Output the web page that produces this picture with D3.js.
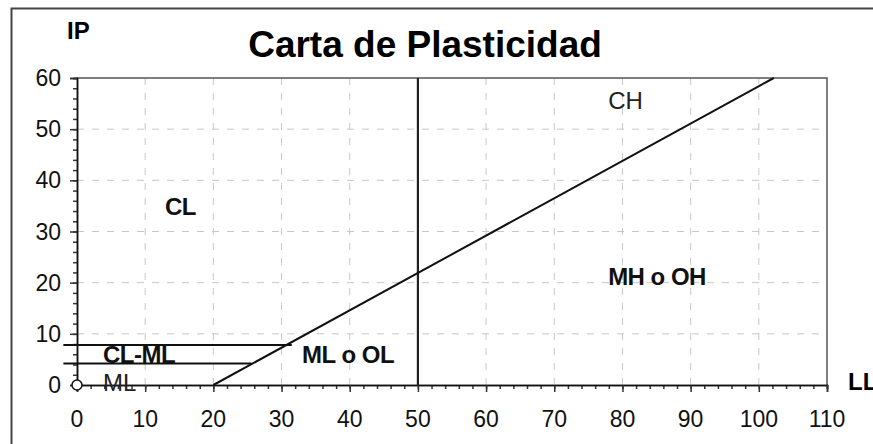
<!DOCTYPE html>
<html>
<head>
<meta charset="utf-8">
<script src="https://cdn.jsdelivr.net/npm/d3@7"></script>
<style>
  body { margin: 0; background: #fff; }
  svg { display: block; font-family: "Liberation Sans", Arial, sans-serif; }
</style>
</head>
<body>
<div id="chart"></div>
<script>
// chart values
var xTickValues = [0, 10, 20, 30, 40, 50, 60, 70, 80, 90, 100, 110];
var yTickValues = [0, 10, 20, 30, 40, 50, 60];
var aLine = [[20, 0], [102.2, 60]];          // linea A
var llLimit = [[50, 0], [50, 60]];           // LL = 50
var clmlLines = [                            // franja CL-ML
  [[-2, 4.2], [25.6, 4.2]],
  [[-2, 7.8], [31.5, 7.8]]
];
var originPoint = [[0, 0]];
var zoneNames = ["CL", "CL-ML", "ML", "ML o OL", "MH o OH", "CH"];
var zoneLL = [12.9, 3.8, 3.8, 33.0, 77.9, 77.9];
var zoneIP = [33.2, 4.3, -1.2, 4.3, 19.5, 53.9];
var zoneBold = [true, true, false, true, true, false];

var svgWidth = 873;
var svgHeight = 444;

var svg = d3.select("#chart")
  .append("svg")
  .attr("width", svgWidth)
  .attr("height", svgHeight);

// outer frame (runs off the picture on right and bottom)
svg.append("rect")
  .attr("x", 11.5).attr("y", 8.5)
  .attr("width", 900).attr("height", 500)
  .attr("fill", "none")
  .attr("stroke", "#444")
  .attr("stroke-width", 2);

var x = d3.scaleLinear().domain([0, 110]).range([77, 827]);
var y = d3.scaleLinear().domain([0, 60]).range([385, 78]);

// grid
svg.append("g").selectAll("line")
  .data(xTickValues.filter(d => d > 0 && d < 110))
  .enter().append("line")
  .attr("x1", d => x(d)).attr("x2", d => x(d))
  .attr("y1", y(0)).attr("y2", y(60))
  .attr("stroke", "#c8c8c8")
  .attr("stroke-dasharray", "7,8");

svg.append("g").selectAll("line")
  .data(yTickValues.filter(d => d > 0 && d < 60))
  .enter().append("line")
  .attr("x1", x(0)).attr("x2", x(110))
  .attr("y1", d => y(d)).attr("y2", d => y(d))
  .attr("stroke", "#c8c8c8")
  .attr("stroke-dasharray", "7,8");

// top and right frame of plot
svg.append("path")
  .attr("d", `M${x(0)},${y(60)}H${x(110)}V${y(0)}`)
  .attr("fill", "none")
  .attr("stroke", "#555")
  .attr("stroke-width", 1.5);

// axes
var minorX = d3.range(0, 111, 2);
var minorY = d3.range(0, 61, 2);

var xAxis = svg.append("g")
  .attr("transform", `translate(0, ${y(0)})`)
  .call(d3.axisBottom(x).tickValues(minorX).tickSize(4).tickFormat(""));
xAxis.append("g").call(d3.axisBottom(x).tickValues(xTickValues).tickSize(7).tickFormat(""));
xAxis.selectAll(".domain").attr("stroke", "#111").attr("stroke-width", 1.5);
xAxis.selectAll(".tick line").attr("stroke", "#333").attr("stroke-width", 1.5);

var yAxis = svg.append("g")
  .attr("transform", `translate(${x(0)}, 0)`)
  .call(d3.axisLeft(y).tickValues(minorY).tickSize(4).tickFormat(""));
yAxis.append("g").call(d3.axisLeft(y).tickValues(yTickValues).tickSize(7).tickFormat(""));
yAxis.selectAll(".domain").attr("stroke", "#111").attr("stroke-width", 1.5);
yAxis.selectAll(".tick line").attr("stroke", "#333").attr("stroke-width", 1.5);

// tick labels
svg.append("g").selectAll("text")
  .data(xTickValues)
  .enter().append("text")
  .attr("x", d => x(d))
  .attr("y", 427)
  .attr("text-anchor", "middle")
  .attr("font-size", "23px")
  .attr("fill", "#111")
  .text(d => d);

svg.append("g").selectAll("text")
  .data(yTickValues)
  .enter().append("text")
  .attr("x", 61)
  .attr("y", d => y(d) + 8)
  .attr("text-anchor", "end")
  .attr("font-size", "23px")
  .attr("fill", "#111")
  .text(d => d);

// chart lines
var line = d3.line().x(d => x(d[0])).y(d => y(d[1]));

svg.append("path")
  .datum(llLimit)
  .attr("d", line)
  .attr("stroke", "#222")
  .attr("stroke-width", 2.2)
  .attr("fill", "none");

clmlLines.forEach(function(seg) {
  svg.append("path")
    .datum(seg)
    .attr("d", line)
    .attr("stroke", "#111")
    .attr("stroke-width", 2)
    .attr("fill", "none");
});

svg.append("path")
  .datum(aLine)
  .attr("d", line)
  .attr("stroke", "#111")
  .attr("stroke-width", 2)
  .attr("fill", "none");

svg.selectAll(".origin")
  .data(originPoint)
  .enter().append("circle")
  .attr("class", "origin")
  .attr("cx", d => x(d[0]))
  .attr("cy", d => y(d[1]))
  .attr("r", 5)
  .attr("fill", "#fff")
  .attr("stroke", "#111")
  .attr("stroke-width", 1.5);

// zone labels
svg.append("g").selectAll("text")
  .data(zoneNames)
  .enter().append("text")
  .attr("x", (d, i) => x(zoneLL[i]))
  .attr("y", (d, i) => y(zoneIP[i]))
  .attr("font-size", "24px")
  .attr("font-weight", (d, i) => zoneBold[i] ? "bold" : "normal")
  .attr("letter-spacing", (d, i) => zoneBold[i] ? "-0.5px" : "0px")
  .attr("fill", (d, i) => zoneBold[i] ? "#111" : "#222")
  .text(d => d);

// titles
svg.append("text")
  .attr("x", 425)
  .attr("y", 57)
  .attr("text-anchor", "middle")
  .attr("font-size", "37px")
  .attr("font-weight", "bold")
  .attr("fill", "#000")
  .text("Carta de Plasticidad");

svg.append("text")
  .attr("x", 67)
  .attr("y", 39)
  .attr("font-size", "24px")
  .attr("font-weight", "bold")
  .attr("fill", "#000")
  .text("IP");

// LL sits at the right edge, cut off as in the reference
svg.append("text")
  .attr("x", 848)
  .attr("y", 390)
  .attr("font-size", "24px")
  .attr("font-weight", "bold")
  .attr("fill", "#000")
  .text("LL");
</script>
</body>
</html>
